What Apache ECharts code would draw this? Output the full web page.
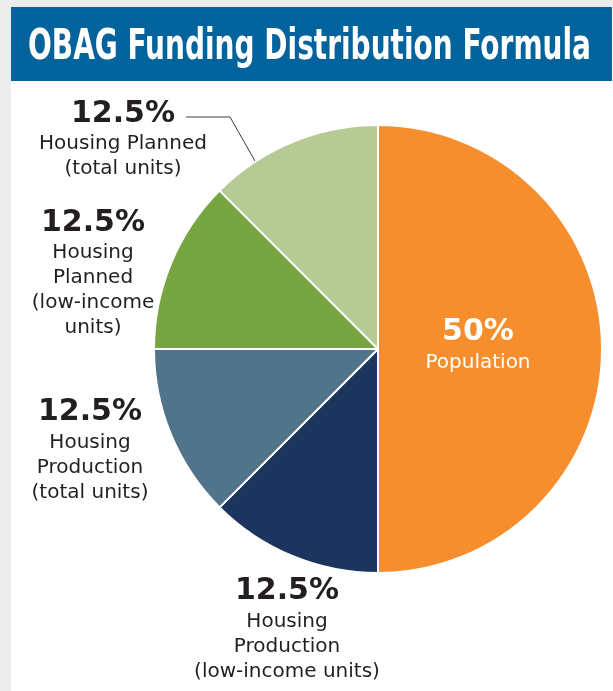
<!DOCTYPE html>
<html>
<head>
<meta charset="utf-8">
<script src="https://cdn.jsdelivr.net/npm/echarts@6/dist/echarts.min.js"></script>
<style>
  html, body { margin: 0; padding: 0; background: #ececec; }
  #main { width: 613px; height: 691px; }
</style>
</head>
<body>
<div id="main"></div>
<script>
var titleText = 'OBAG Funding Distribution Formula';
var values = [50, 12.5, 12.5, 12.5, 12.5];
var labelLines = [
    ['Population'],
    ['Housing', 'Production', '(low-income units)'],
    ['Housing', 'Production', '(total units)'],
    ['Housing', 'Planned', '(low-income', 'units)'],
    ['Housing Planned', '(total units)']
];
var colors = ['#f68e2e', '#1c355e', '#51748b', '#77a542', '#b5ca94'];

// where each label block sits (center x, center y)
var labelPos = [[478, 345], [287, 629], [90, 450], [93, 273], [123, 139]];

var titleFont = 'bold 43px "Liberation Sans Narrow", "DejaVu Sans Condensed", sans-serif';
var ctx = document.createElement('canvas').getContext('2d');
ctx.font = titleFont;
var titleScale = 563 / ctx.measureText(titleText).width;

var myChart = echarts.init(document.getElementById('main'));

var pieData = values.map(function (v, i) {
    var item = {
        value: v,
        name: labelLines[i].join(' '),
        itemStyle: { color: colors[i] },
        label: {
            formatter: '{p|' + v + '%}\n' + labelLines[i].map(function (t) {
                return '{t|' + t + '}';
            }).join('\n')
        },
        labelLine: { show: false }
    };
    if (i === 0) {
        item.label.rich = {
            p: { color: '#fff' },
            t: { color: '#fff' }
        };
    }
    if (i === 4) {
        item.labelLine = {
            show: true,
            lineStyle: { color: '#3a3a3a', width: 1 }
        };
    }
    return item;
});

var option = {
    backgroundColor: '#ececec',
    animation: false,
    graphic: [
        {
            type: 'rect',
            shape: { x: 11, y: 7, width: 602, height: 684 },
            style: { fill: '#ffffff' },
            z: -10
        },
        {
            type: 'rect',
            shape: { x: 11, y: 7, width: 601, height: 74 },
            style: { fill: '#02639d' },
            z: -5
        },
        {
            type: 'text',
            x: 28,
            y: 48,
            scaleX: titleScale,
            style: {
                text: titleText,
                fill: '#ffffff',
                font: titleFont,
                textAlign: 'left',
                textVerticalAlign: 'middle'
            }
        }
    ],
    series: [
        {
            type: 'pie',
            center: [378, 349],
            radius: 224,
            startAngle: 90,
            clockwise: true,
            silent: true,
            avoidLabelOverlap: false,
            emphasis: { disabled: true },
            itemStyle: {
                borderColor: '#ffffff',
                borderWidth: 2
            },
            label: {
                show: true,
                position: 'outside',
                overflow: 'none',
                align: 'center',
                rich: {
                    p: {
                        fontFamily: 'DejaVu Sans',
                        fontWeight: 'bold',
                        fontSize: 30,
                        lineHeight: 35,
                        color: '#231f20',
                        align: 'center'
                    },
                    t: {
                        fontFamily: 'DejaVu Sans',
                        fontSize: 20,
                        lineHeight: 25,
                        color: '#231f20',
                        align: 'center'
                    }
                }
            },
            labelLayout: function (params) {
                var p = labelPos[params.dataIndex];
                var res = {
                    x: p[0],
                    y: p[1],
                    align: 'center',
                    verticalAlign: 'middle',
                    hideOverlap: false
                };
                if (params.dataIndex === 4) {
                    res.labelLinePoints = [[186, 117], [230, 117], [255, 161]];
                }
                return res;
            },
            data: pieData
        }
    ]
};
myChart.setOption(option);
</script>
</body>
</html>
